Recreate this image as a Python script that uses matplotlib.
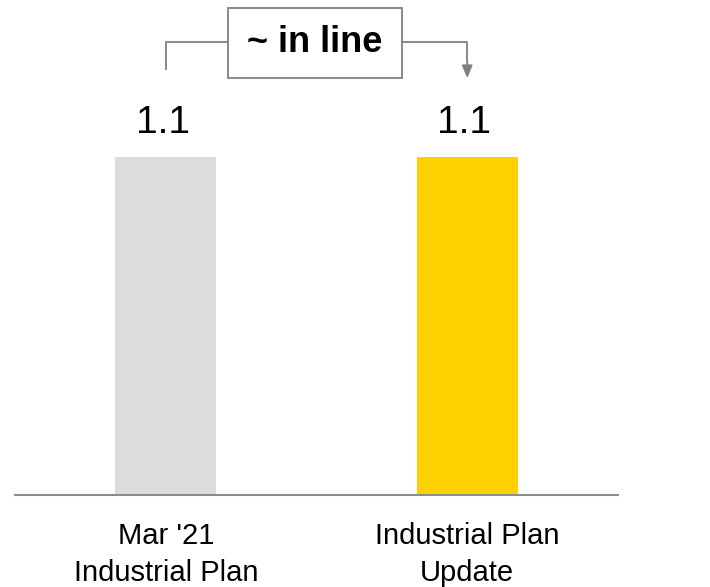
import matplotlib.pyplot as plt
from matplotlib.patches import Rectangle

plt.rcParams['font.family'] = ['Liberation Sans', 'DejaVu Sans']

categories = ["Mar '21\nIndustrial Plan", "Industrial Plan\nUpdate"]
values = [1.1, 1.1]
value_labels = ["1.1", "1.1"]
colors = ['#dcdcdc', '#ffd100']
note = "~ in line"

fig = plt.figure(figsize=(7.1, 5.87), dpi=100)
ax = fig.add_axes([15 / 710, 92 / 587, 603 / 710, 495 / 587])

x = list(range(len(values)))
ax.bar(x, values, width=0.335, color=colors)

for xi, v, lab in zip(x, values, value_labels):
    ax.text(xi - 0.01, v + 0.078, lab, ha='center', va='baseline', fontsize=28)

ax.set_xlim(-0.5, 1.5)
ax.set_ylim(0, 1.611)
ax.set_yticks([])
ax.set_xticks(x, categories)
ax.tick_params(axis='x', length=0, pad=62, labelsize=21)
for t in ax.get_xticklabels():
    t.set_va('baseline')
    t.set_linespacing(1.43)

for s in ['top', 'left', 'right']:
    ax.spines[s].set_visible(False)
ax.spines['bottom'].set_color('#8c8c8c')
ax.spines['bottom'].set_linewidth(1.5)

# bracket with note box
line_col = '#808080'
top = max(values)
by = top + 0.374
bx0, bx1 = 0.206, 0.783
ax.plot([x[0], x[0], bx0], [top + 0.283, by, by], color=line_col, lw=1.3,
        clip_on=False, solid_capstyle='butt')
ax.plot([bx1, x[1], x[1]], [by, by, top + 0.31], color=line_col, lw=1.3,
        clip_on=False, solid_capstyle='butt')
ax.annotate('', xy=(x[1], top + 0.257), xytext=(x[1], top + 0.31),
            arrowprops=dict(arrowstyle='-|>,head_width=0.32,head_length=0.75',
                            color=line_col, lw=1.3, shrinkA=0, shrinkB=0),
            annotation_clip=False)
ax.add_patch(Rectangle((bx0, top + 0.257), bx1 - bx0, 0.228, fill=False,
                       edgecolor=line_col, lw=1.3, clip_on=False))
ax.text((bx0 + bx1) / 2, by, note, ha='center', va='center', fontsize=26,
        fontweight='bold')

fig.savefig('out.png', dpi=100)
